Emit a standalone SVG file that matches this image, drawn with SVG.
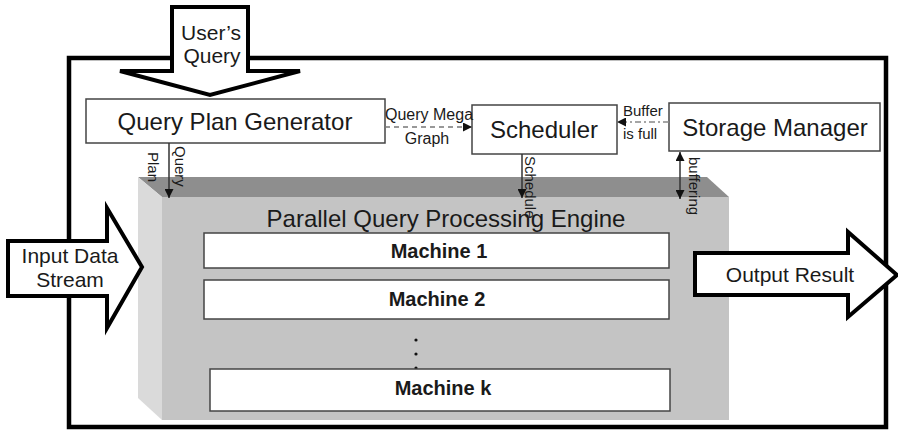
<svg xmlns="http://www.w3.org/2000/svg" width="898" height="430" viewBox="0 0 898 430">
  <style>
    text { font-family: "Liberation Sans", Arial, sans-serif; fill: #1a1a1a; }
    .box { fill: #ffffff; stroke: #444444; stroke-width: 1.5; }
    .big { fill: #ffffff; stroke: #000000; stroke-width: 4; stroke-linejoin: miter; }
    .lbl24 { font-size: 24px; text-anchor: middle; }
    .lbl21 { font-size: 21px; text-anchor: middle; }
    .mach { font-size: 20px; font-weight: bold; text-anchor: middle; }
    .small { font-size: 15px; }
    .mid16 { font-size: 16px; }
    .conn { stroke: #333333; stroke-width: 1.5; fill: none; }
    .dash { stroke: #777777; stroke-width: 1.5; fill: none; stroke-dasharray: 5 4; }
    .dashdot { stroke: #888888; stroke-width: 1.5; fill: none; stroke-dasharray: 6 3 2 3; }
  </style>
  <defs>
    <marker id="tri" viewBox="0 0 10 10" refX="10" refY="5" markerWidth="9" markerHeight="9" markerUnits="userSpaceOnUse" orient="auto-start-reverse">
      <path d="M0,0 L10,5 L0,10 Z" fill="#111111"/>
    </marker>
  </defs>

  <rect width="898" height="430" fill="#ffffff"/>

  <!-- system frame -->
  <rect id="frame" x="69" y="58" width="817" height="369" fill="none" stroke="#000000" stroke-width="4.5"/>

  <!-- parallel query processing engine (3D block) -->
  <g id="engine">
    <polygon points="138,177 707,177 729,197 162,197" fill="#8e8e8e"/>
    <polygon points="138,177 162,197 162,420 138,398" fill="#dadada"/>
    <rect x="162" y="197" width="567" height="223" fill="#c4c4c4"/>
    <text class="lbl24" x="446" y="227">Parallel Query Processing Engine</text>
  </g>

  <g id="machine1">
    <rect class="box" x="204" y="233" width="465" height="35"/>
    <text class="mach" x="439" y="258">Machine 1</text>
  </g>
  <g id="machine2">
    <rect class="box" x="204" y="280" width="465" height="39"/>
    <text class="mach" x="437" y="306">Machine 2</text>
  </g>
  <g id="ellipsis">
    <circle cx="416" cy="340" r="1.6" fill="#111111"/>
    <circle cx="416" cy="354" r="1.6" fill="#111111"/>
    <circle cx="416" cy="368" r="1.6" fill="#111111"/>
  </g>
  <g id="machinek">
    <rect class="box" x="210" y="369" width="460" height="42"/>
    <text class="mach" x="443" y="395">Machine k</text>
  </g>

  <!-- control-plane nodes -->
  <g id="query-plan-generator">
    <rect class="box" x="86" y="99" width="299" height="44"/>
    <text class="lbl24" x="235" y="130">Query Plan Generator</text>
  </g>
  <g id="scheduler">
    <rect class="box" x="472" y="105" width="145" height="49"/>
    <text class="lbl24" x="544" y="138">Scheduler</text>
  </g>
  <g id="storage-manager">
    <rect class="box" x="669" y="103" width="211" height="48"/>
    <text class="lbl24" x="775" y="136">Storage Manager</text>
  </g>

  <!-- block arrows -->
  <g id="users-query">
    <polygon class="big" points="172,7 248,7 248,71 300,71 210,95 120,71 172,71"/>
    <text class="lbl21" x="211" y="40">User’s</text>
    <text class="lbl21" x="212" y="63">Query</text>
  </g>
  <g id="input-stream">
    <polygon class="big" points="8,241 107,241 107,208 142,267 107,328 107,296 8,296"/>
    <text class="lbl21" x="70" y="263">Input Data</text>
    <text class="lbl21" x="70" y="287">Stream</text>
  </g>
  <g id="output-result">
    <polygon class="big" points="695,253 848,253 848,232 897,275 848,317 848,295 695,295"/>
    <text class="lbl21" x="790" y="282">Output Result</text>
  </g>

  <!-- connectors -->
  <g id="connectors">
    <line class="conn" x1="169" y1="143" x2="169" y2="198" marker-end="url(#tri)"/>
    <text class="small" transform="translate(175,146) rotate(90)">Query</text>
    <text class="small" transform="translate(148,152) rotate(90)">Plan</text>

    <line class="dash" x1="385" y1="127" x2="472" y2="127" marker-end="url(#tri)"/>
    <text class="mid16" x="385" y="120">Query Mega</text>
    <text class="mid16" x="427" y="144" text-anchor="middle">Graph</text>

    <line class="dashdot" x1="669" y1="122" x2="617" y2="122" marker-end="url(#tri)"/>
    <text class="small" x="623" y="116">Buffer</text>
    <text class="small" x="623" y="139">is full</text>

    <line class="conn" x1="522" y1="154" x2="522" y2="198" marker-end="url(#tri)"/>
    <text class="small" transform="translate(525,156) rotate(90)">Schedule</text>

    <line class="conn" x1="680" y1="152" x2="680" y2="199" marker-start="url(#tri)" marker-end="url(#tri)"/>
    <text class="small" transform="translate(689,157) rotate(90)">buffering</text>
  </g>
</svg>
